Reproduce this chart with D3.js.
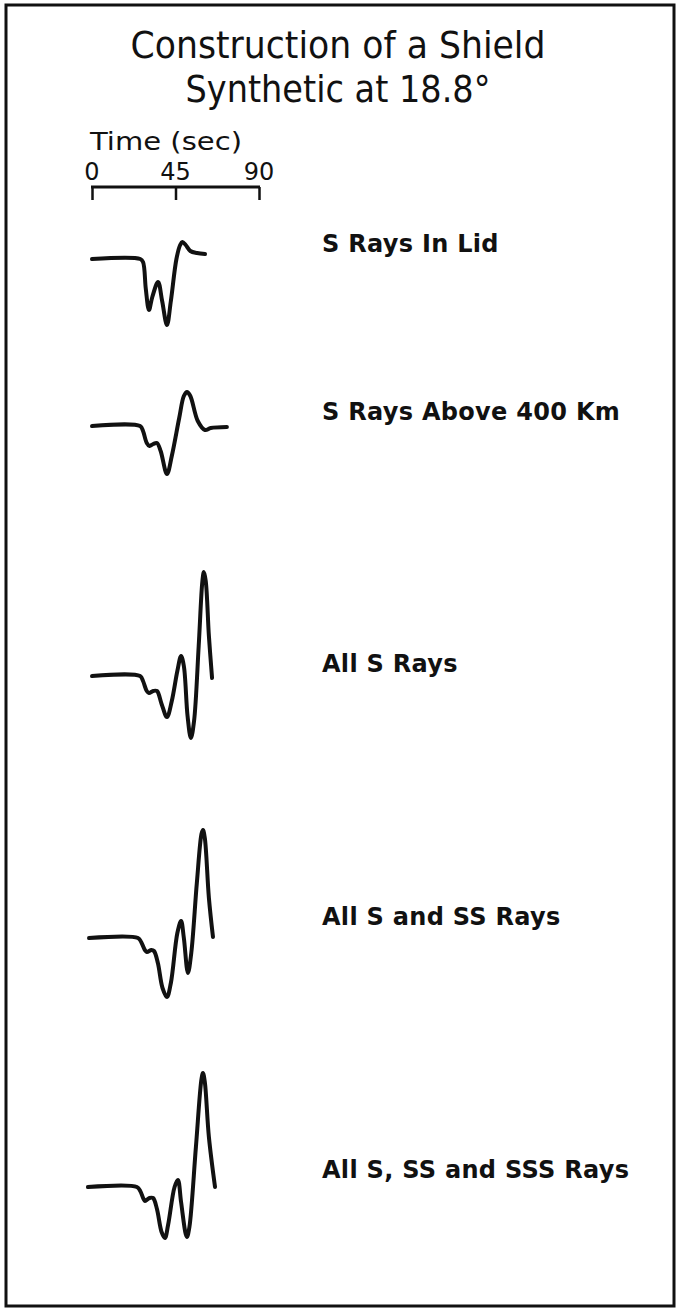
<!DOCTYPE html>
<html>
<head>
<meta charset="utf-8">
<script src="https://cdn.jsdelivr.net/npm/d3@7"></script>
<style>
  html, body { margin: 0; padding: 0; background: #fff; }
  svg { display: block; }
  text { fill: #111; font-family: "DejaVu Sans", sans-serif; }
</style>
</head>
<body>
<svg id="chart" width="677" height="1315"></svg>
<script>
// Title lines
const titleLines = ["Construction of a Shield", "Synthetic at 18.8\u00b0"];

// Time bar
const timeLabel = "Time (sec)";
const timeTicks = [0, 45, 90];

// Trace names
const traceNames = [
  "S Rays In Lid",
  "S Rays Above 400 Km",
  "All S Rays",
  "All S and SS Rays",
  "All S, SS and SSS Rays"
];

// Waveform samples: [time (s), relative amplitude]
const lidRays = [[0,0],[26,0],[27.5,-3],[29,-30],[30.7,-51],[32.5,-38],[35.6,-23],[37.8,-42],[40.4,-66],[42.5,-42],[45.5,0],[47.5,14],[48.7,17],[50.5,14],[53,8],[56.6,6],[60.9,5]];
const above400Rays = [[0,0],[25.9,0],[27.5,-5],[29.5,-17],[31,-20],[33,-18],[35,-17],[37,-25],[40.4,-48],[43,-30],[47,8],[49.5,30],[51.2,34],[53,30],[57,5],[60.9,-4],[64,-2],[72.7,-1]];
const allSRays = [[0,0],[25.9,0],[27.5,-5],[29.5,-15],[30.7,-17],[33,-15],[35,-15],[37.5,-28],[40.4,-41],[43,-25],[46,5],[48,20],[49.5,10],[51.5,-40],[53.3,-62],[55,-45],[57.5,30],[59.5,95],[60.3,104],[61.3,95],[63,40],[64.7,-2]];
const sAndSSRays = [[-1.6,0],[24.8,0],[26.5,-4],[28.5,-12],[29.6,-14],[32,-12],[33.4,-13],[35.5,-25],[38,-50],[40.4,-59],[42.5,-45],[46,5],[48,17],[49.5,0],[51.7,-35],[53.5,-15],[56.5,55],[59,104],[59.8,108],[60.8,100],[63,40],[65.2,1]];
const sSSandSSSRays = [[-2.2,0],[24.2,0],[26,-4],[27.8,-12],[28.6,-14],[31,-11],[32.9,-11],[35,-22],[37.5,-45],[39.3,-51],[41,-38],[44.5,0],[46.3,7],[48,-15],[50.5,-47],[51.2,-50],[52.5,-40],[56,40],[59,108],[59.8,114],[60.8,105],[63,50],[66.3,0]];

const traces = [lidRays, above400Rays, allSRays, sAndSSRays, sSSandSSSRays];

// ---- layout ----
const W = 677, H = 1315;
const svg = d3.select("#chart");

// border
svg.append("rect")
  .attr("x", 6).attr("y", 5)
  .attr("width", 668).attr("height", 1301)
  .attr("fill", "none").attr("stroke", "#111").attr("stroke-width", 3);

// title
const titleWidths = [415, 305];
svg.append("g").selectAll("text")
  .data(titleLines)
  .join("text")
  .attr("x", 338)
  .attr("y", (d, i) => 58 + i * 44)
  .attr("text-anchor", "middle")
  .attr("font-size", 38)
  .attr("textLength", (d, i) => titleWidths[i])
  .attr("lengthAdjust", "spacingAndGlyphs")
  .text(d => d);

// shared time scale
const x = d3.scaleLinear().domain([0, 90]).range([92, 259]);

// time bar drawn as an axis with downward ticks and labels above
const barY = 187;
const axis = d3.axisBottom(x).tickValues(timeTicks).tickSize(13).tickFormat(() => "");
const axG = svg.append("g").attr("transform", `translate(0,${barY})`).call(axis);
axG.select(".domain").remove();
axG.selectAll(".tick line").attr("stroke", "#111").attr("stroke-width", 2.5);
axG.append("line")
  .attr("x1", x(0) - 1).attr("x2", x(90) + 1)
  .attr("stroke", "#111").attr("stroke-width", 3);

svg.append("g").selectAll("text")
  .data(timeTicks)
  .join("text")
  .attr("x", d => x(d))
  .attr("y", 180)
  .attr("text-anchor", "middle")
  .attr("font-size", 24)
  .text(d => d);

svg.append("text")
  .attr("x", 166).attr("y", 150)
  .attr("text-anchor", "middle")
  .attr("font-size", 25)
  .attr("textLength", 152)
  .attr("lengthAdjust", "spacingAndGlyphs")
  .text(timeLabel);

// waveform rows
const rowY = [259, 426, 676, 938, 1187];
const amp = d3.scaleLinear().domain([-120, 120]).range([120, -120]);

const line = d3.line()
  .x(d => x(d[0]))
  .y(d => amp(d[1]))
  .curve(d3.curveCatmullRom.alpha(0.5));

const rows = svg.append("g").selectAll("g")
  .data(traces)
  .join("g")
  .attr("transform", (d, i) => `translate(0,${rowY[i]})`);

rows.append("path")
  .attr("d", d => line(d))
  .attr("fill", "none")
  .attr("stroke", "#111")
  .attr("stroke-width", 4)
  .attr("stroke-linecap", "round")
  .attr("stroke-linejoin", "round");

const labelDy = [-7, -6, -4, -13, -9];
rows.append("text")
  .attr("x", 322)
  .attr("y", (d, i) => labelDy[i])
  .attr("font-size", 24)
  .attr("font-weight", "bold")
  .attr("letter-spacing", 0.3)
  .text((d, i) => traceNames[i]);
</script>
</body>
</html>
